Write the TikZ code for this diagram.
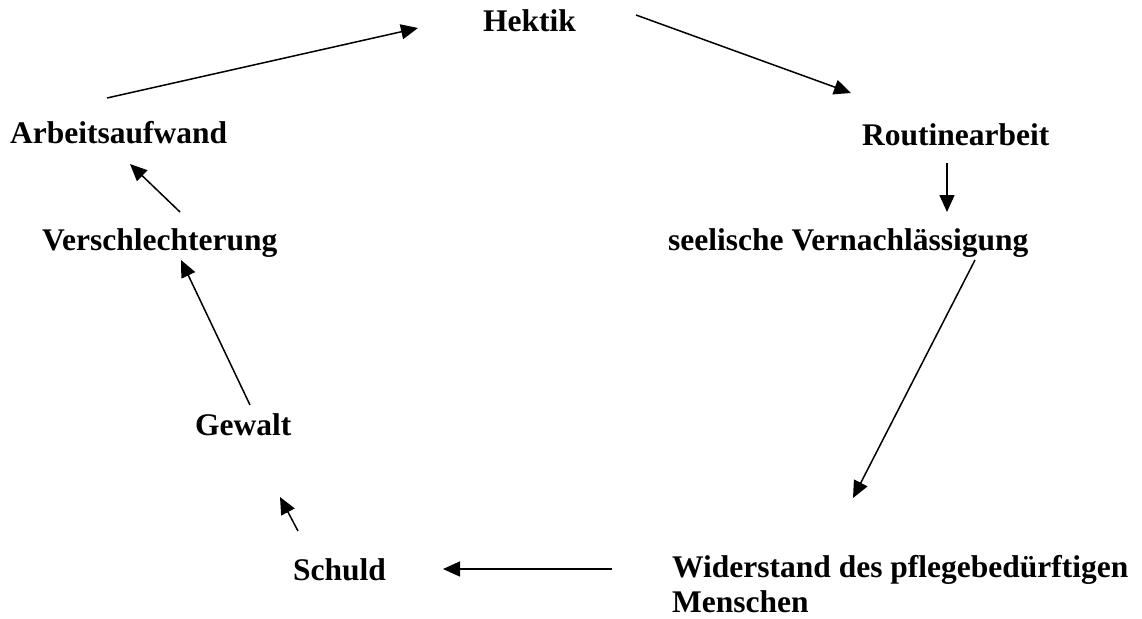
\documentclass[tikz,border=0pt]{standalone}
\usepackage{fontspec}
\setmainfont{Liberation Serif}
\usetikzlibrary{arrows.meta}
\begin{document}
\begin{tikzpicture}[x=1pt,y=-1pt,
		lbl/.style={anchor=base west,inner sep=0pt,font=\fontsize{31.5}{35}\selectfont\bfseries,align=left},
		pfeil/.style={line width=1.5pt,-{Triangle[length=17pt,width=15pt]}}]
			\useasboundingbox (0,0) rectangle (1142,618);
			% Begriffe
			\node[lbl] (hektik) at (483,32) {Hektik};
			\node[lbl] (routine) at (862,145) {Routinearbeit};
			\node[lbl] (seele) at (668,250) {seelische Vernachlässigung};
			\node[lbl] (widerstand) at (672,612) {Widerstand des pflegebedürftigen\\Menschen};
			\node[lbl] (schuld) at (293,580) {Schuld};
			\node[lbl] (gewalt) at (195,435) {Gewalt};
			\node[lbl] (verschl) at (42,250) {Verschlechterung};
			\node[lbl] (arbeit) at (10,143) {Arbeitsaufwand};
			% Pfeilenden
			\coordinate (a1) at (107,98);  \coordinate (a2) at (418,28);
			\coordinate (b1) at (636,15);  \coordinate (b2) at (851,93);
			\coordinate (c1) at (947,163); \coordinate (c2) at (947,212);
			\coordinate (d1) at (975,260); \coordinate (d2) at (853,498);
			\coordinate (e1) at (612,569); \coordinate (e2) at (443,569);
			\coordinate (f1) at (298,531); \coordinate (f2) at (280,497);
			\coordinate (g1) at (250,405); \coordinate (g2) at (181,260);
			\coordinate (h1) at (180,212); \coordinate (h2) at (130,164);
			% Kreislauf
			\draw[pfeil] (a1)--(a2);
			\draw[pfeil] (b1)--(b2);
			\draw[pfeil] (c1)--(c2);
			\draw[pfeil] (d1)--(d2);
			\draw[pfeil] (e1)--(e2);
			\draw[pfeil] (f1)--(f2);
			\draw[pfeil] (g1)--(g2);
			\draw[pfeil] (h1)--(h2);
		\end{tikzpicture}
\end{document}
